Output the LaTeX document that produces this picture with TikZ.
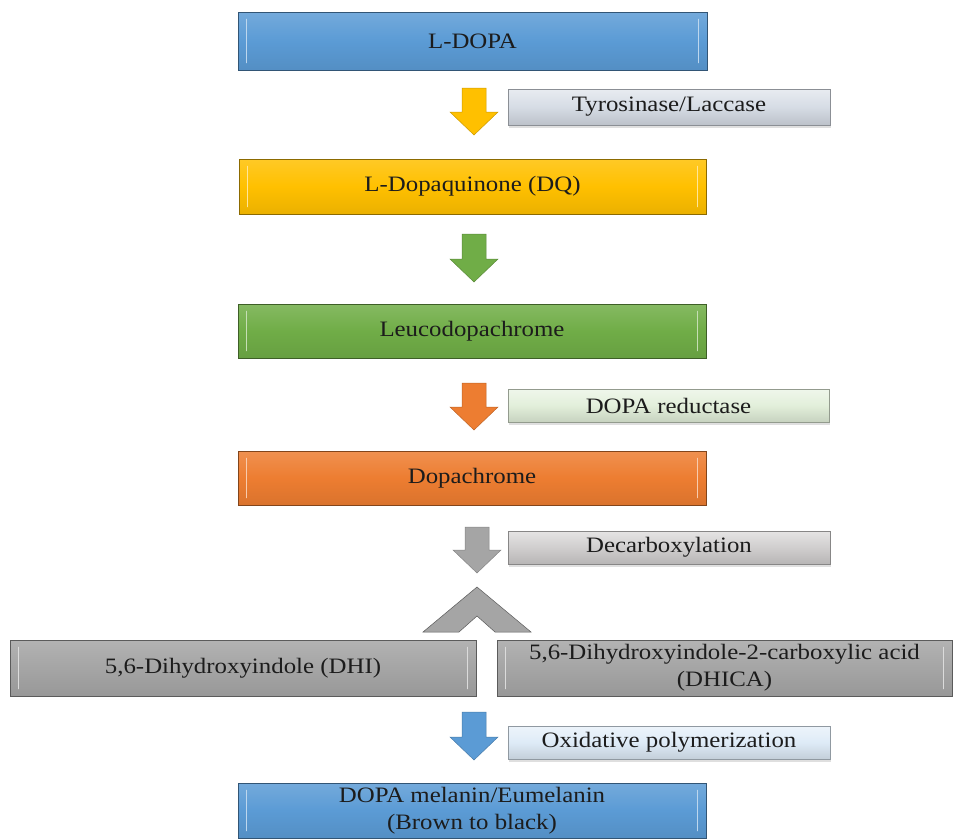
\documentclass[tikz,border=0pt]{standalone}
\usepackage{fontspec}
\setmainfont{Liberation Serif}
\usepackage{graphicx}
\usetikzlibrary{shadows}
\definecolor{cblue}{HTML}{5B9BD5}
\definecolor{cyel}{HTML}{FFC000}
\definecolor{cgreen}{HTML}{70AD47}
\definecolor{corange}{HTML}{ED7D31}
\definecolor{cgray}{HTML}{A5A5A5}
\definecolor{ltyr}{HTML}{D6DCE5}
\definecolor{lred}{HTML}{E2EFDA}
\definecolor{ldec}{HTML}{D0CECE}
\definecolor{loxi}{HTML}{DEEBF7}
\definecolor{txt}{HTML}{1C1C1C}
\newcommand\wide[1]{\scalebox{1.13}[1]{#1}}
\newcommand\widetwo[2]{\scalebox{1.13}[1]{\begin{tabular}{@{}c@{}}#1\\[0pt]#2\end{tabular}}}
\tikzset{
  stage/.style={draw=#1!55!black, line width=1pt, top color=#1!85!white,
    bottom color=#1!92!black, middle color=#1, inner sep=0pt, text=txt,
    align=center, font=\fontsize{22}{27}\selectfont},
  hilite/.style={draw=#1!40!white, line width=1.6pt, line cap=round},
  labelbox/.style={draw=#1!65!black, line width=0.6pt, top color=#1!55!white,
    bottom color=#1!88!black, middle color=#1,
    drop shadow={opacity=0.25, shadow xshift=1pt, shadow yshift=-2.5pt},
    inner sep=0pt, text=txt, font=\fontsize{22}{27}\selectfont},
  blockarrow/.style={fill=#1, draw=#1!80!black, line width=0.5pt, line join=miter}
}
% name, x1, y1, x2, y2, colour, text
\newcommand\stagebox[7]{%
  \node[stage=#6, minimum width={#4pt-#2pt}, minimum height={#5pt-#3pt}]
    (#1) at ({(#2+#4)/2},{(#3+#5)/2}) {#7};
  \draw[hilite=#6] ([xshift=9pt,yshift=-8pt]#1.north west) -- ([xshift=9pt,yshift=8pt]#1.south west);
  \draw[hilite=#6] ([xshift=-9pt,yshift=-8pt]#1.north east) -- ([xshift=-9pt,yshift=8pt]#1.south east);
}
\newcommand\labbox[7]{%
  \node[labelbox=#6, minimum width={#4pt-#2pt}, minimum height={#5pt-#3pt}]
    (#1) at ({(#2+#4)/2},{(#3+#5)/2}) {#7};
}
% x centre, y top, y tip, colour
\newcommand\blockdown[4]{%
  \draw[blockarrow=#4] ({#1-12},#2) -- ({#1+12},#2) -- ({#1+12},{#3-23}) -- ({#1+24},{#3-23})
    -- (#1,#3) -- ({#1-24},{#3-23}) -- ({#1-12},{#3-23}) -- cycle;
}
\begin{document}
\begin{tikzpicture}[x=1pt,y=-1pt]
\useasboundingbox (0,0) rectangle (953,839);

\stagebox{ldopa}{238}{12}{707}{70}{cblue}{\wide{L-DOPA}}
\stagebox{dq}{239}{159}{706}{214}{cyel}{\wide{L-Dopaquinone (DQ)}}
\stagebox{leuco}{238}{304}{706}{358}{cgreen}{\wide{Leucodopachrome}}
\stagebox{dopachrome}{238}{451}{706}{505}{corange}{\wide{Dopachrome}}
\stagebox{dhi}{10}{640}{476}{696}{cgray}{\wide{5,6-Dihydroxyindole (DHI)}}
\stagebox{dhica}{497}{640}{952}{696}{cgray}{\widetwo{5,6-Dihydroxyindole-2-carboxylic acid}{(DHICA)}}
\stagebox{melanin}{238}{783}{706}{838}{cblue}{\widetwo{DOPA melanin/Eumelanin}{(Brown to black)}}

\labbox{tyr}{508}{89}{830}{125}{ltyr}{\wide{Tyrosinase/Laccase}}
\labbox{red}{508}{389}{829}{422}{lred}{\wide{DOPA reductase}}
\labbox{dec}{508}{531}{830}{564}{ldec}{\wide{Decarboxylation}}
\labbox{oxi}{508}{726}{830}{759}{loxi}{\wide{Oxidative polymerization}}

\blockdown{474}{88}{135}{cyel}
\blockdown{474}{234}{282}{cgreen}
\blockdown{474}{383}{430}{corange}
\blockdown{477}{527}{573}{cgray}
\blockdown{474}{712}{760}{cblue}

\draw[blockarrow=cgray, draw=cgray!55!black] (477,587) -- (531,632) -- (495,632) -- (477,616)
  -- (459,632) -- (423,632) -- cycle;
\end{tikzpicture}
\end{document}
